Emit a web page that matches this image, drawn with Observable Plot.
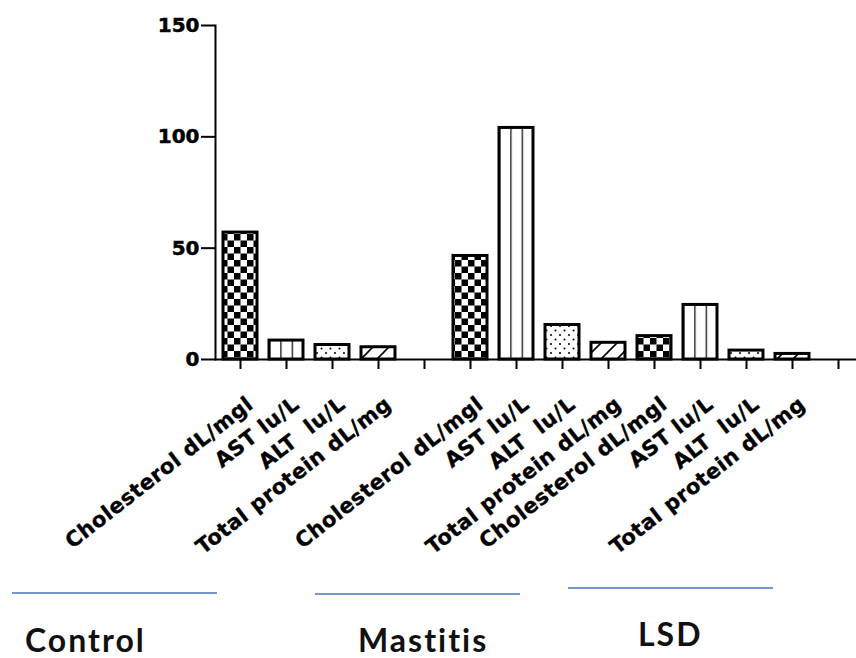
<!DOCTYPE html>
<html>
<head>
<meta charset="utf-8">
<script src="https://cdn.jsdelivr.net/npm/d3@7"></script>
<script src="https://cdn.jsdelivr.net/npm/@observablehq/plot@0.6"></script>
<style>
  html, body { margin: 0; padding: 0; background: #fff; overflow: hidden; }
  #wrap { position: relative; width: 856px; height: 658px; overflow: hidden; }
  #chart svg { display: block; }
  .grp-line { position: absolute; height: 2px; background: #7597cc; }
  .grp-label { position: absolute; font-family: Lato, "Open Sans", sans-serif; font-weight: bold;
    font-size: 32px; letter-spacing: 2px; color: #111; line-height: 0.8; white-space: nowrap; }
</style>
</head>
<body>
<div id="wrap">
  <div id="chart"></div>
</div>
<script>
// ---- data ----
const groups = ["Control", "Mastitis", "LSD"];
const tests = ["Cholesterol dL/mgl", "AST lu/L", "ALT  lu/L", "Total protein dL/mg"];
const controlValues = [57, 8.5, 6.5, 5.5];
const mastitisValues = [46.5, 104, 15.5, 7.5];
const lsdValues = [10.5, 24.5, 4, 2.5];
const yTicks = [0, 50, 100, 150];

// ---- build table ----
const groupValues = [controlValues, mastitisValues, lsdValues];
const rows = [];
groups.forEach((g, gi) => tests.forEach((t, ti) =>
  rows.push({slot: g + "|" + t, group: g, test: t, testIndex: ti, value: groupValues[gi][ti]})));
const slots = [
  ...tests.map(t => "Control|" + t), "gap-1",
  ...tests.map(t => "Mastitis|" + t),
  ...tests.map(t => "LSD|" + t), "gap-2"
];
const labelFor = s => s.startsWith("gap") ? "" : s.split("|")[1];

// pattern definitions (one per test)
const defsMark = () => {
  const defs = d3.create("svg:defs");
  // checkerboard
  const p0 = defs.append("pattern").attr("id", "pat-0").attr("patternUnits", "userSpaceOnUse")
    .attr("width", 13).attr("height", 13);
  p0.append("rect").attr("width", 13).attr("height", 13).attr("fill", "#fff");
  p0.append("rect").attr("width", 6.5).attr("height", 6.5).attr("fill", "#000");
  p0.append("rect").attr("x", 6.5).attr("y", 6.5).attr("width", 6.5).attr("height", 6.5).attr("fill", "#000");
  // vertical stripes, three columns per bar
  const p1 = defs.append("pattern").attr("id", "pat-1").attr("patternUnits", "objectBoundingBox")
    .attr("x", 0).attr("y", 0).attr("width", 1 / 3).attr("height", 1);
  p1.append("rect").attr("width", 40).attr("height", 400).attr("fill", "#fff");
  p1.append("rect").attr("x", -1).attr("width", 2.2).attr("height", 400).attr("fill", "#000");
  // dots
  const p2 = defs.append("pattern").attr("id", "pat-2").attr("patternUnits", "userSpaceOnUse")
    .attr("width", 9).attr("height", 9);
  p2.append("rect").attr("width", 9).attr("height", 9).attr("fill", "#fff");
  p2.append("circle").attr("cx", 2).attr("cy", 2).attr("r", 1).attr("fill", "#000");
  p2.append("circle").attr("cx", 6.5).attr("cy", 6.5).attr("r", 1).attr("fill", "#000");
  // diagonal hatch
  const p3 = defs.append("pattern").attr("id", "pat-3").attr("patternUnits", "userSpaceOnUse")
    .attr("width", 16).attr("height", 16);
  p3.append("rect").attr("width", 16).attr("height", 16).attr("fill", "#fff");
  p3.append("path").attr("d", "M-2,18L18,-2M-2,2L2,-2M14,18L18,14").attr("stroke", "#000").attr("stroke-width", 1.6);
  return defs.node();
};

const chart = Plot.plot({
  width: 856,
  height: 560,
  marginLeft: 215,
  marginRight: 0,
  marginTop: 25,
  marginBottom: 201,
  style: {fontFamily: "DejaVu Sans", fontWeight: "bold", color: "#000", background: "#fff", whiteSpace: "pre", overflow: "hidden"},
  x: {domain: slots, range: [215, 863], paddingInner: 0.27, paddingOuter: 0.135, align: 0.5},
  y: {domain: [0, 150]},
  color: {type: "identity"},
  marks: [
    defsMark,
    Plot.barY(rows, {x: "slot", y: "value", fill: d => `url(#pat-${d.testIndex})`, stroke: "#000", strokeWidth: 3, inset: 0}),
    Plot.ruleY([0], {stroke: "#000", strokeWidth: 2}),
    Plot.frame({anchor: "left", stroke: "#000", strokeWidth: 2}),
    Plot.axisY({ticks: yTicks, tickSize: 14, tickPadding: 2, fontSize: 20, label: null, strokeWidth: 2, tickFormat: d => String(d)}),
    // tick marks only
    Plot.axisX({tickSize: 10, label: null, strokeWidth: 2, tickFormat: () => ""}),
    // rotated labels only
    Plot.axisX({tickSize: 0, tickPadding: 16, dx: 10, dy: 26, tickRotate: -38, fontSize: 21, label: null, tickFormat: labelFor})
  ]
});
document.getElementById("chart").appendChild(chart);
d3.select(chart).selectAll('g[aria-label="x-axis tick label"] text')
  .style("letter-spacing", "0.5px").style("stroke", "#000").style("stroke-width", "0.35px");
d3.select(chart).selectAll('g[aria-label="y-axis tick label"] text')
  .style("stroke", "#000").style("stroke-width", "0.5px");

// group annotations beneath the chart
const wrap = document.getElementById("wrap");
const lineBoxes = [[12, 592, 205], [315, 593, 205], [568, 587, 205]];
const labelBoxes = [[25, 627], [358, 627], [638, 621]];
groups.forEach((g, i) => {
  const ln = document.createElement("div");
  ln.className = "grp-line";
  ln.style.left = lineBoxes[i][0] + "px"; ln.style.top = lineBoxes[i][1] + "px"; ln.style.width = lineBoxes[i][2] + "px";
  wrap.appendChild(ln);
  const lb = document.createElement("div");
  lb.className = "grp-label";
  lb.textContent = g;
  lb.style.left = labelBoxes[i][0] + "px"; lb.style.top = labelBoxes[i][1] + "px";
  wrap.appendChild(lb);
});
</script>
</body>
</html>
